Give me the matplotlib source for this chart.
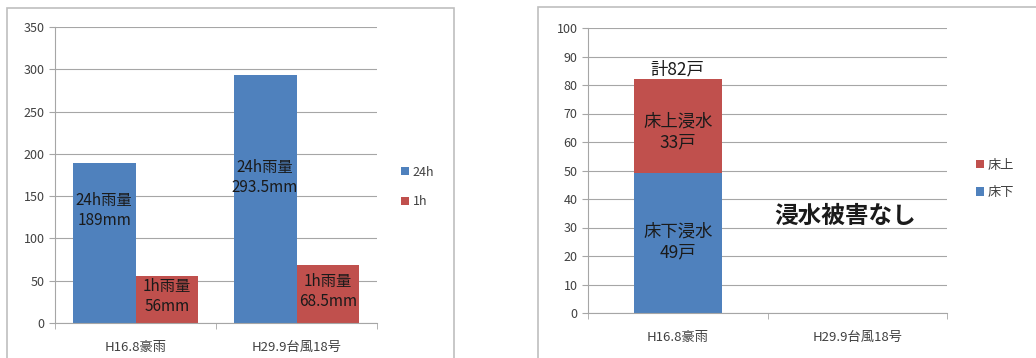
import numpy as np
import matplotlib.pyplot as plt
from matplotlib.patches import Rectangle

plt.rcParams['font.family'] = ['Noto Sans CJK JP', 'DejaVu Sans']

# データ
events = ['H16.8豪雨', 'H29.9台風18号']
rain_24h = [189, 293.5]
rain_1h = [56, 68.5]
rain_24h_labels = ['24h雨量\n189mm', '24h雨量\n293.5mm']
rain_1h_labels = ['1h雨量\n56mm', '1h雨量\n68.5mm']

yuka_shita = [49, 0]
yuka_ue = [33, 0]

blue = '#4F81BD'
red = '#C0504D'
grid_c = '#A6A6A6'
txt_c = '#404040'
lab_c = '#1A1A1A'

W, H = 1036, 358
fig = plt.figure(figsize=(W / 100, H / 100), dpi=100)

# 枠
fig.patches.append(Rectangle((7 / W, -0.05), (454 - 7) / W, 1.05 - 8 / H,
                             transform=fig.transFigure, fill=False,
                             edgecolor='#BFBFBF', lw=1.2))
fig.patches.append(Rectangle((538 / W, -0.05), (1040 - 538) / W, 1.05 - 7 / H,
                             transform=fig.transFigure, fill=False,
                             edgecolor='#BFBFBF', lw=1.2))


def style(ax, ymax, step):
    ax.set_ylim(0, ymax)
    ax.set_yticks(np.arange(0, ymax + 1, step))
    ax.set_xlim(-0.5, 1.5)
    ax.grid(axis='y', color=grid_c, lw=0.8)
    ax.set_axisbelow(True)
    for s in ['top', 'right']:
        ax.spines[s].set_visible(False)
    ax.spines['left'].set_color(grid_c)
    ax.spines['bottom'].set_color(grid_c)
    ax.tick_params(axis='y', colors=txt_c, labelsize=9, length=4, color=grid_c)
    ax.set_xticks([0, 1])
    ax.set_xticklabels(events, color=txt_c, fontsize=9.5)
    ax.tick_params(axis='x', length=0, pad=13)
    ax.set_xticks([-0.5, 0.5, 1.5], minor=True)
    ax.tick_params(axis='x', which='minor', length=4, color=grid_c)


# 左: 雨量
ax1 = fig.add_axes([55 / W, 1 - 323 / H, (377 - 55) / W, (323 - 27) / H])
x = np.arange(len(events))
bw = 0.39
ax1.bar(x - bw / 2, rain_24h, bw, color=blue, label='24h')
ax1.bar(x + bw / 2, rain_1h, bw, color=red, label='1h')
style(ax1, 350, 50)
lab_y24 = [133, 172]
lab_y1 = [31, 37]
for i in x:
    ax1.text(i - bw / 2, lab_y24[i], rain_24h_labels[i], ha='center', va='center',
             fontsize=11, color=lab_c, linespacing=1.25)
    ax1.text(i + bw / 2, lab_y1[i], rain_1h_labels[i], ha='center', va='center',
             fontsize=11, color=lab_c, linespacing=1.25)
ax1.legend(loc='center left', bbox_to_anchor=(1.06, 0.46), frameon=False,
           fontsize=9, handlelength=0.6, handleheight=0.6, handletextpad=0.3,
           labelspacing=1.3, labelcolor=txt_c, borderaxespad=0)

# 右: 浸水被害
ax2 = fig.add_axes([588 / W, 1 - 313 / H, (947 - 588) / W, (313 - 28) / H])
bw2 = 0.49
ax2.bar(x, yuka_shita, bw2, color=blue, label='床下')
ax2.bar(x, yuka_ue, bw2, bottom=yuka_shita, color=red, label='床上')
style(ax2, 100, 10)
ax2.text(0, 63.5, '床上浸水\n33戸', ha='center', va='center', fontsize=12.5,
         color=lab_c, linespacing=1.2)
ax2.text(0, 25, '床下浸水\n49戸', ha='center', va='center', fontsize=12.5,
         color=lab_c, linespacing=1.2)
ax2.text(0, yuka_shita[0] + yuka_ue[0] + 0.5, '計82戸', ha='center', va='bottom',
         fontsize=12.5, color=lab_c)
ax2.text(0.93, 34, '浸水被害なし', ha='center', va='center', fontsize=17,
         fontweight='bold', color=lab_c)
h, l = ax2.get_legend_handles_labels()
ax2.legend(h[::-1], l[::-1], loc='center left', bbox_to_anchor=(1.065, 0.47),
           frameon=False, fontsize=9.5, handlelength=0.6, handleheight=0.6,
           handletextpad=0.3, labelspacing=1.1, labelcolor=txt_c, borderaxespad=0)

fig.savefig('out.png', dpi=100)
